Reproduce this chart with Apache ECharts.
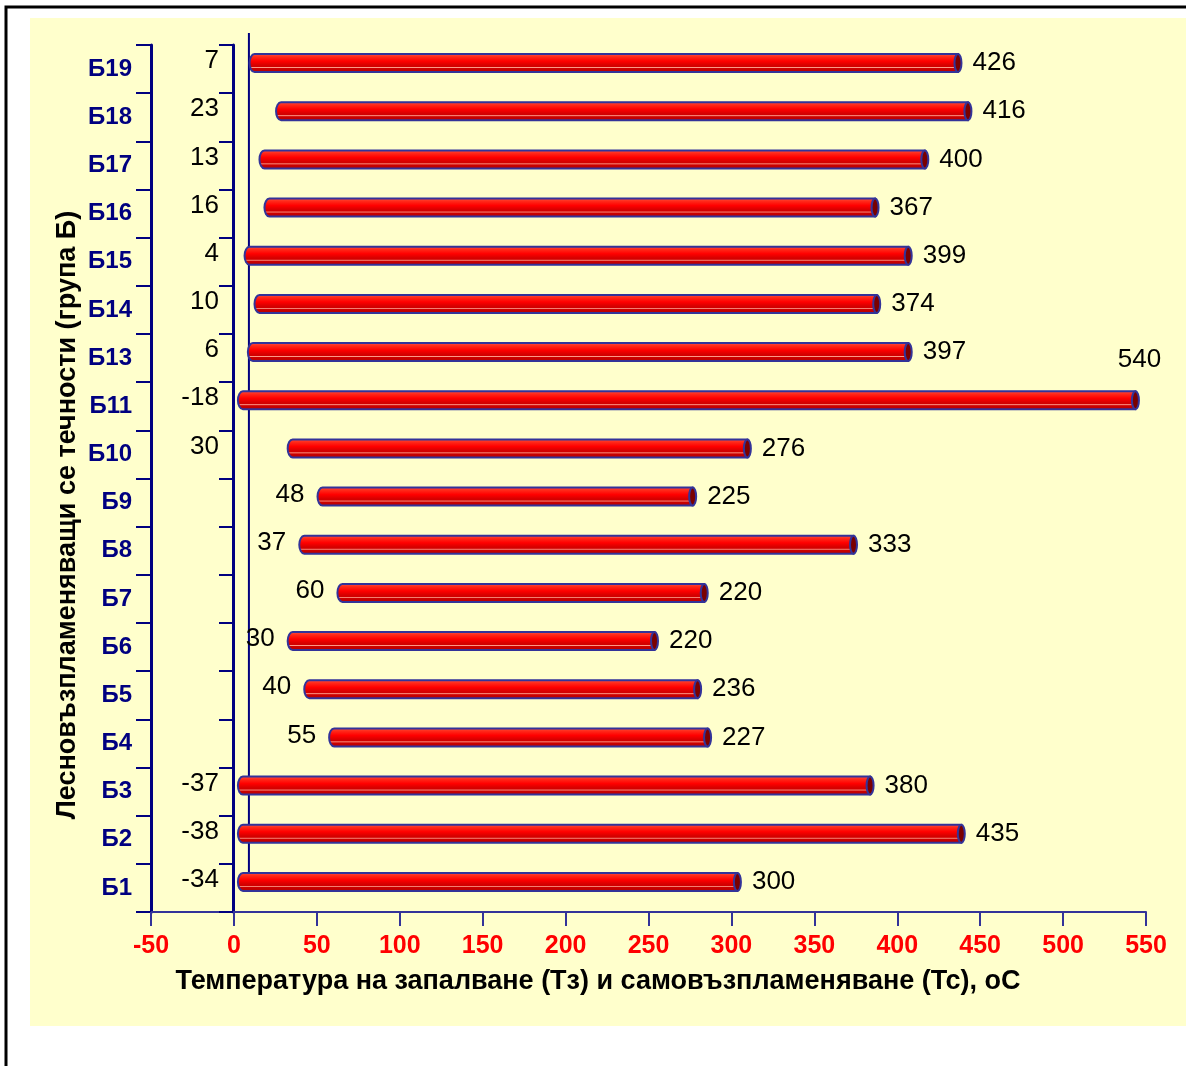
<!DOCTYPE html>
<html>
<head>
<meta charset="utf-8">
<script src="https://cdn.jsdelivr.net/npm/echarts@6/dist/echarts.min.js"></script>
<style>
  html, body { margin: 0; padding: 0; background: #fff; }
  #chart { width: 1186px; height: 1066px; }
</style>
</head>
<body>
<div id="chart"></div>
<script>
const categories = ['Б1', 'Б2', 'Б3', 'Б4', 'Б5', 'Б6', 'Б7', 'Б8', 'Б9', 'Б10',
  'Б11', 'Б13', 'Б14', 'Б15', 'Б16', 'Б17', 'Б18', 'Б19']
// Тз - flash point, Тс - auto-ignition temperature
const flashPoint = [-34, -38, -37, 55, 40, 30, 60, 37, 48, 30, -18, 6, 10, 4, 16, 13, 23, 7]
const autoIgnition = [300, 435, 380, 227, 236, 220, 220, 333, 225, 276, 540, 397, 374, 399, 367, 400, 416, 426]
const xMin = -50
const xMax = 550
const xStep = 50

// labels of these rows sit right next to the bar, the rest in a column left of zero
const labelBesideBar = ['Б4', 'Б5', 'Б6', 'Б7', 'Б8', 'Б9']

const FONT = '"Liberation Sans", Arial, sans-serif'
const NAVY = '#000080'
const BLUE = '#333399'

const chart = echarts.init(document.getElementById('chart'), null, { devicePixelRatio: 1 })

// bar runs from max(Тз,0) and Тс is stacked on top of it, like in the source chart
const barData = categories.map((c, i) => {
  const base = Math.max(flashPoint[i], 0)
  return [i, base, base + autoIgnition[i], flashPoint[i], autoIgnition[i]]
})

const bodyFill = new echarts.graphic.LinearGradient(0, 0, 0, 1, [
  { offset: 0, color: '#FF5a4a' },
  { offset: 0.18, color: '#FF2a1a' },
  { offset: 0.4, color: '#FF0000' },
  { offset: 0.6, color: '#D80000' },
  { offset: 0.68, color: '#D00000' },
  { offset: 0.72, color: '#FF9a88' },
  { offset: 0.77, color: '#CC0000' },
  { offset: 1, color: '#B00000' }
])

function renderBar(params, api) {
  const idx = api.value(0)
  const p0 = api.coord([api.value(1), idx])
  const p1 = api.coord([api.value(2), idx])
  const zero = api.coord([0, idx])[0]
  const h = 18
  const cy = p0[1] - 6
  const top = cy - h / 2
  const bottom = cy + h / 2
  // small shift right, like the 3d depth of the old cylinder bars
  const x0 = p0[0] + 4
  const x1 = p1[0] + 6
  const rx = 5
  const capRx = 3.5

  const path = 'M' + (x0 + rx) + ' ' + top + ' L' + x1 + ' ' + top + ' L' + x1 + ' ' + bottom +
    ' L' + (x0 + rx) + ' ' + bottom + ' A' + rx + ' ' + (h / 2) + ' 0 0 1 ' + (x0 + rx) + ' ' + top + ' Z'

  const cat = categories[idx]
  let tzX
  if (labelBesideBar.includes(cat)) {
    tzX = x0 - 13
  } else {
    tzX = zero - 15
  }

  const gridRight = api.getWidth() - 40
  let tcX = x1 + capRx + 11
  let tcY = cy
  let tcAlign = 'left'
  if (tcX + 45 > gridRight) {
    tcX = x1 + 4
    tcY = cy - 40
    tcAlign = 'center'
  }

  return {
    type: 'group',
    children: [
      {
        type: 'path',
        shape: { pathData: path },
        style: { fill: bodyFill, stroke: BLUE, lineWidth: 2 }
      },
      {
        type: 'ellipse',
        shape: { cx: x1, cy: cy, rx: capRx, ry: h / 2 },
        style: { fill: '#7A0000', stroke: BLUE, lineWidth: 2 }
      },
      {
        type: 'text',
        x: tzX,
        y: cy - 2,
        style: {
          text: String(api.value(3)), fill: '#000', fontSize: 26, fontFamily: FONT,
          align: 'right', verticalAlign: 'middle'
        }
      },
      {
        type: 'text',
        x: tcX,
        y: tcY,
        style: {
          text: String(api.value(4)), fill: '#000', fontSize: 26, fontFamily: FONT,
          align: tcAlign, verticalAlign: 'middle'
        }
      }
    ]
  }
}

const option = {
  backgroundColor: '#fff',
  animation: false,
  grid: { left: 151, right: 40, top: 45, bottom: 154, containLabel: false },
  xAxis: {
    type: 'value',
    min: xMin,
    max: xMax,
    interval: xStep,
    splitLine: { show: false },
    axisLine: { show: true, onZero: false, lineStyle: { color: BLUE, width: 2 } },
    axisTick: { show: true, length: 14, lineStyle: { color: BLUE, width: 2 } },
    axisLabel: { color: '#FF0000', fontWeight: 'bold', fontSize: 25, fontFamily: FONT, margin: 22 }
  },
  yAxis: [
    {
      type: 'category',
      data: categories,
      axisLine: { show: true, onZero: false, lineStyle: { color: NAVY, width: 3 } },
      axisTick: { show: true, length: 15, lineStyle: { color: NAVY, width: 2 } },
      axisLabel: { color: NAVY, fontWeight: 'bold', fontSize: 24, fontFamily: FONT, margin: 19 },
      splitLine: { show: false }
    },
    {
      type: 'category',
      data: categories,
      position: 'left',
      offset: -82,
      axisLine: { show: true, onZero: false, lineStyle: { color: NAVY, width: 3 } },
      axisTick: { show: true, length: 14, lineStyle: { color: NAVY, width: 2 } },
      axisLabel: { show: false },
      splitLine: { show: false }
    }
  ],
  series: [
    {
      type: 'custom',
      renderItem: renderBar,
      encode: { x: [1, 2], y: 0 },
      data: barData,
      silent: true,
      z: 5
    }
  ]
}

chart.setOption(option)

// frame, backdrop, titles and the thin reference line beside the zero axis
const zeroPx = chart.convertToPixel({ xAxisIndex: 0 }, 0)
chart.setOption({
  graphic: [
    {
      type: 'rect', z: -10, silent: true,
      shape: { x: 30, y: 18, width: 1200, height: 1008 },
      style: { fill: '#FFFFCC' }
    },
    {
      type: 'rect', z: -9, silent: true,
      shape: { x: 6, y: 7, width: 1200, height: 1100 },
      style: { fill: null, stroke: '#000', lineWidth: 3 }
    },
    {
      type: 'line', z: 3, silent: true,
      shape: { x1: zeroPx + 15, y1: 33, x2: zeroPx + 15, y2: 890 },
      style: { stroke: NAVY, lineWidth: 2 }
    },
    {
      type: 'text', silent: true,
      x: 598, y: 982,
      style: {
        text: 'Температура на запалване (Тз) и самовъзпламеняване (Тс), оС',
        fill: '#000', fontWeight: 'bold', fontSize: 27, fontFamily: FONT,
        align: 'center', verticalAlign: 'middle'
      }
    },
    {
      type: 'text', silent: true,
      x: 68, y: 515, rotation: Math.PI / 2,
      style: {
        text: 'Лесновъзпламеняващи се течности (група Б)',
        fill: '#000', fontWeight: 'bold', fontSize: 27, fontFamily: FONT,
        align: 'center', verticalAlign: 'middle'
      }
    }
  ]
})
</script>
</body>
</html>
